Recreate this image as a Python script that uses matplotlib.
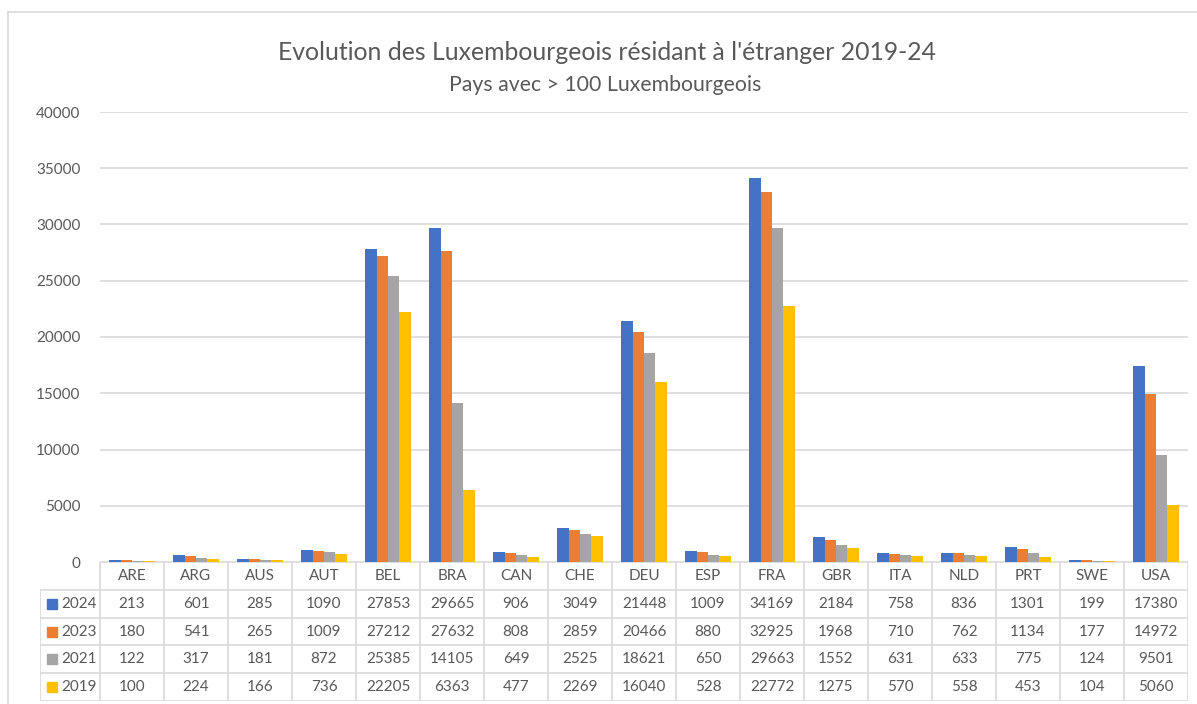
import numpy as np
import matplotlib.pyplot as plt
from matplotlib.lines import Line2D

plt.rcParams['font.family'] = ['Lato', 'DejaVu Sans']

countries = ['ARE', 'ARG', 'AUS', 'AUT', 'BEL', 'BRA', 'CAN', 'CHE', 'DEU',
             'ESP', 'FRA', 'GBR', 'ITA', 'NLD', 'PRT', 'SWE', 'USA']
years = ['2024', '2023', '2021', '2019']
v2024 = [213, 601, 285, 1090, 27853, 29665, 906, 3049, 21448, 1009, 34169, 2184, 758, 836, 1301, 199, 17380]
v2023 = [180, 541, 265, 1009, 27212, 27632, 808, 2859, 20466, 880, 32925, 1968, 710, 762, 1134, 177, 14972]
v2021 = [122, 317, 181, 872, 25385, 14105, 649, 2525, 18621, 650, 29663, 1552, 631, 633, 775, 124, 9501]
v2019 = [100, 224, 166, 736, 22205, 6363, 477, 2269, 16040, 528, 22772, 1275, 570, 558, 453, 104, 5060]
series = [v2024, v2023, v2021, v2019]
colors = ['#4472C4', '#ED7D31', '#A5A5A5', '#FFC000']

txt = '#595959'
grid = '#D9D9D9'
W, H = 1197, 704

fig = plt.figure(figsize=(W / 100, H / 100), dpi=100)

# main bar axes
ax = fig.add_axes([100 / W, (H - 562) / H, 1088 / W, 450 / H])
x = np.arange(len(countries))
bw = 0.176
for k, (vals, c) in enumerate(zip(series, colors)):
    ax.bar(x + (k - 1.5) * bw, vals, width=bw, color=c, zorder=3)
ax.set_xlim(-0.5, len(countries) - 0.5)
ax.set_ylim(0, 40000)
ax.set_yticks(range(0, 40001, 5000))
ax.yaxis.grid(True, color=grid, linewidth=1.2, zorder=0)
ax.tick_params(axis='y', length=0, pad=14, labelsize=11, labelcolor=txt)
ax.set_xticks([])
for s in ax.spines.values():
    s.set_visible(False)

# data table drawn underneath
tax = fig.add_axes([40 / W, 3 / H, 1148 / W, 139 / H])
left = -0.5 - 60 / 64
right = len(countries) - 0.5
tax.set_xlim(left, right)
tax.set_ylim(5, 0)
tax.axis('off')
lw = 1.2
tax.add_line(Line2D([-0.5, right], [0, 0], color=grid, lw=lw))
for r in range(1, 6):
    tax.add_line(Line2D([left, right], [r, r], color=grid, lw=lw))
for k in range(len(countries) + 1):
    tax.add_line(Line2D([-0.5 + k, -0.5 + k], [0, 5], color=grid, lw=lw))
tax.add_line(Line2D([left, left], [1, 5], color=grid, lw=lw))

for i, c in enumerate(countries):
    tax.text(i, 0.5, c, ha='center', va='center', fontsize=11, color=txt)
    for r, vals in enumerate(series):
        tax.text(i, r + 1.5, str(vals[i]), ha='center', va='center', fontsize=11, color=txt)
for r, (yr, c) in enumerate(zip(years, colors)):
    tax.plot([left + 12 / 64], [r + 1.5], marker='s', ms=7, color=c, clip_on=False)
    tax.text(left + 21 / 64, r + 1.5, yr, ha='left', va='center', fontsize=11, color=txt)

# titles
fig.text(607 / W, 1 - 53 / H, "Evolution des Luxembourgeois résidant à l'étranger 2019-24",
         ha='center', va='center', fontsize=17.8, color=txt)
fig.text(605 / W, 1 - 85 / H, 'Pays avec > 100 Luxembourgeois',
         ha='center', va='center', fontsize=15.3, color=txt)

# chart border
fig.add_artist(Line2D([8 / W, 1], [1 - 12 / H, 1 - 12 / H], color=grid, lw=1.2))
fig.add_artist(Line2D([8 / W, 8 / W], [0, 1 - 12 / H], color=grid, lw=1.2))

fig.savefig('out.png', dpi=100)
